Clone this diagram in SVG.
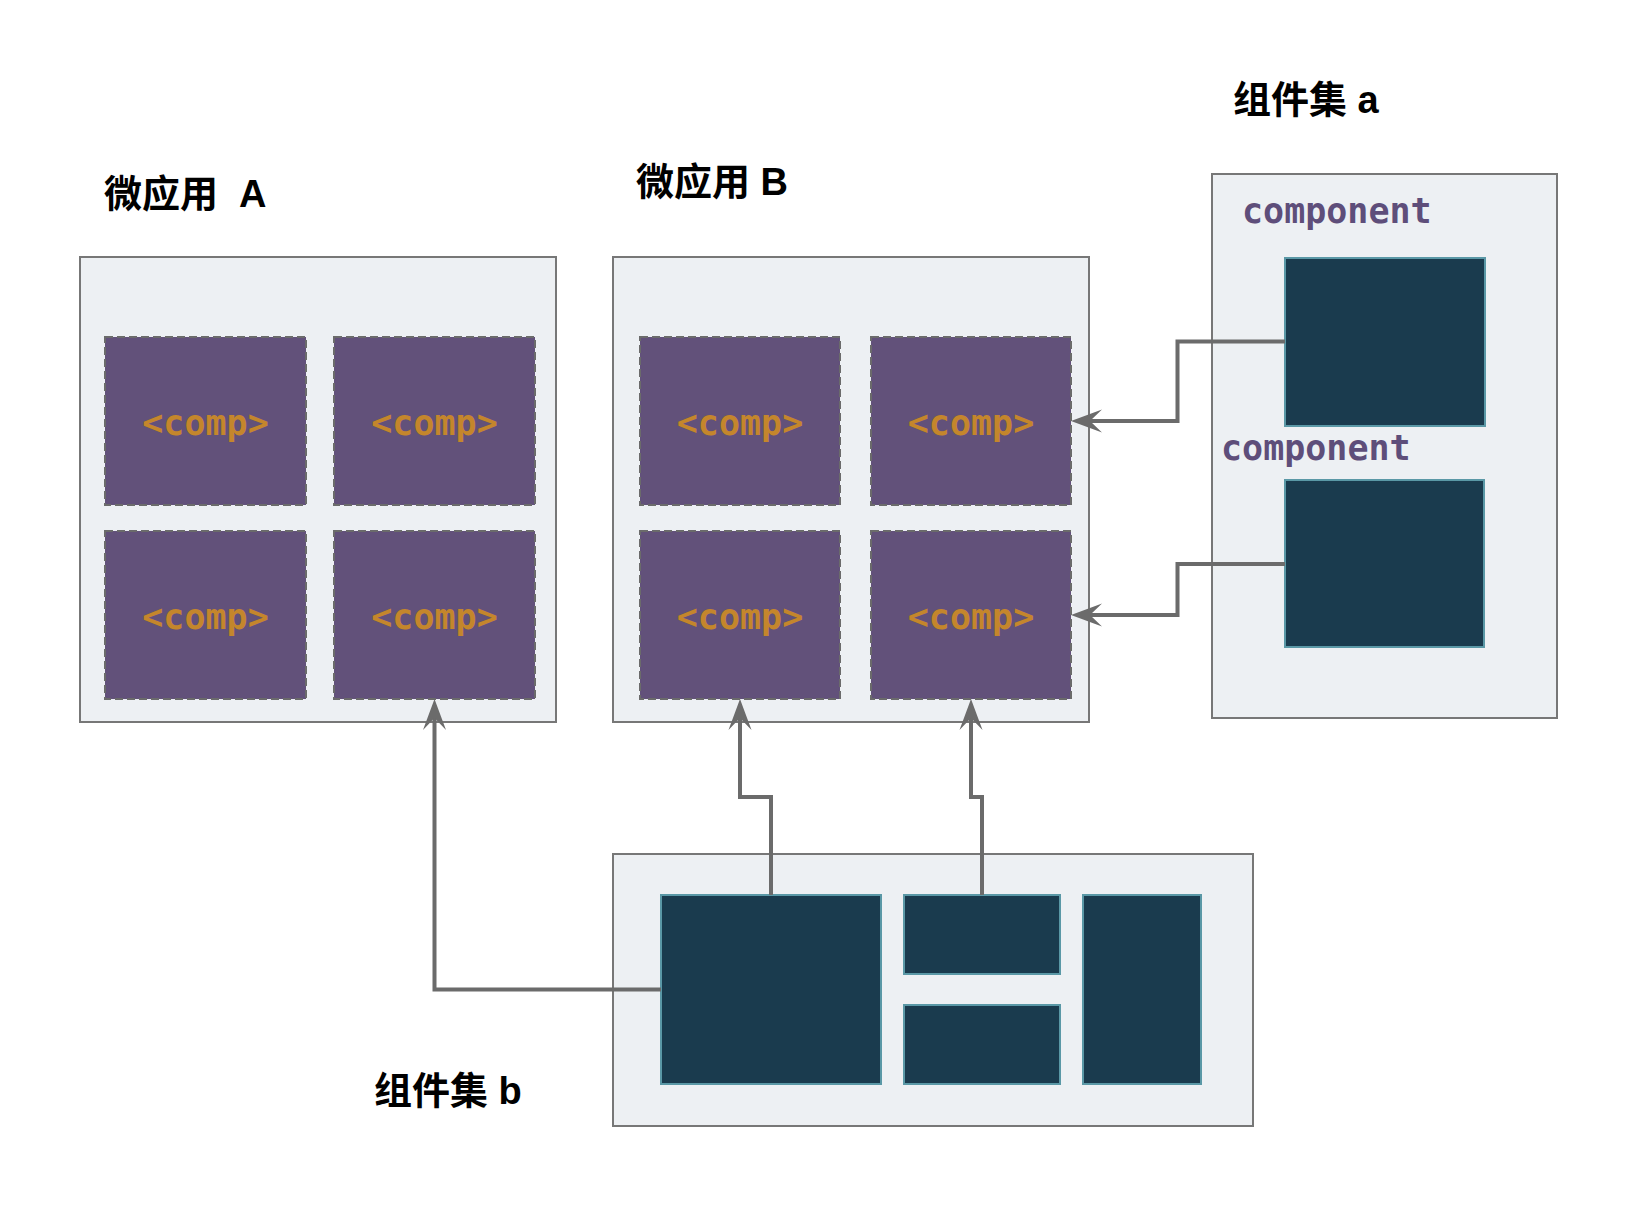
<svg xmlns="http://www.w3.org/2000/svg" width="1638" height="1210" viewBox="0 0 1638 1210">
<style>
.title{font-family:"Liberation Sans","Noto Sans CJK SC",sans-serif;font-weight:bold;font-size:38px;fill:#000;white-space:pre}
.cont{fill:#edf0f3;stroke:#777;stroke-width:2}
.comp{fill:#62517a;stroke:#6b6b6b;stroke-width:2;stroke-dasharray:8 4}
.ctext{font-family:"DejaVu Sans Mono",monospace;font-weight:bold;font-size:35px;fill:#c4862c;text-anchor:middle}
.dark{fill:#1a3b4e;stroke:#5a98a6;stroke-width:2}
.lbl{font-family:"DejaVu Sans Mono",monospace;font-weight:bold;font-size:35px;fill:#5e4e7a}
.conn{fill:none;stroke:#6b6b6b;stroke-width:4;marker-end:url(#arr)}
</style>
<defs>
<marker id="arr" markerUnits="userSpaceOnUse" viewBox="-32 -13 34 26" markerWidth="34" markerHeight="26" refX="-15" refY="0" orient="auto">
<path d="M0,0 L-31,-11.5 L-19,0 L-31,11.5 Z" fill="#6b6b6b"/>
</marker>
</defs>
<rect width="1638" height="1210" fill="#fff"/>

<g id="appA">
<text class="title" x="104" y="207" xml:space="preserve">微应用  A</text>
<rect class="cont" x="80" y="257" width="476" height="465"/>
<rect class="comp" x="105" y="337" width="201" height="168"/>
<text class="ctext" x="205.5" y="435">&lt;comp&gt;</text>
<rect class="comp" x="334" y="337" width="201" height="168"/>
<text class="ctext" x="434.5" y="435">&lt;comp&gt;</text>
<rect class="comp" x="105" y="531" width="201" height="168"/>
<text class="ctext" x="205.5" y="629">&lt;comp&gt;</text>
<rect class="comp" x="334" y="531" width="201" height="168"/>
<text class="ctext" x="434.5" y="629">&lt;comp&gt;</text>
</g>

<g id="appB">
<text class="title" x="636" y="195">微应用 B</text>
<rect class="cont" x="613" y="257" width="476" height="465"/>
<rect class="comp" x="640" y="337" width="200" height="168"/>
<text class="ctext" x="740" y="435">&lt;comp&gt;</text>
<rect class="comp" x="871" y="337" width="200" height="168"/>
<text class="ctext" x="971" y="435">&lt;comp&gt;</text>
<rect class="comp" x="640" y="531" width="200" height="168"/>
<text class="ctext" x="740" y="629">&lt;comp&gt;</text>
<rect class="comp" x="871" y="531" width="200" height="168"/>
<text class="ctext" x="971" y="629">&lt;comp&gt;</text>
</g>

<g id="setA">
<text class="title" x="1233" y="113">组件集 a</text>
<rect class="cont" x="1212" y="174" width="345" height="544"/>
<text class="lbl" x="1242" y="223">component</text>
<rect class="dark" x="1285" y="258" width="200" height="168"/>
<text class="lbl" x="1221" y="460">component</text>
<rect class="dark" x="1285" y="480" width="199" height="167"/>
</g>

<g id="setB">
<text class="title" x="374" y="1104">组件集 b</text>
<rect class="cont" x="613" y="854" width="640" height="272"/>
<rect class="dark" x="661" y="895" width="220" height="189"/>
<rect class="dark" x="904" y="895" width="156" height="79"/>
<rect class="dark" x="904" y="1005" width="156" height="79"/>
<rect class="dark" x="1083" y="895" width="118" height="189"/>
</g>

<g id="connectors">
<path class="conn" d="M1285,341.5 H1177.5 V421 H1086"/>
<path class="conn" d="M1285,564 H1177.5 V615 H1086"/>
<path class="conn" d="M771,895 V797 H740 V714"/>
<path class="conn" d="M982,895 V797 H971 V714"/>
<path class="conn" d="M661,989.5 H434.5 V714"/>
</g>
</svg>
